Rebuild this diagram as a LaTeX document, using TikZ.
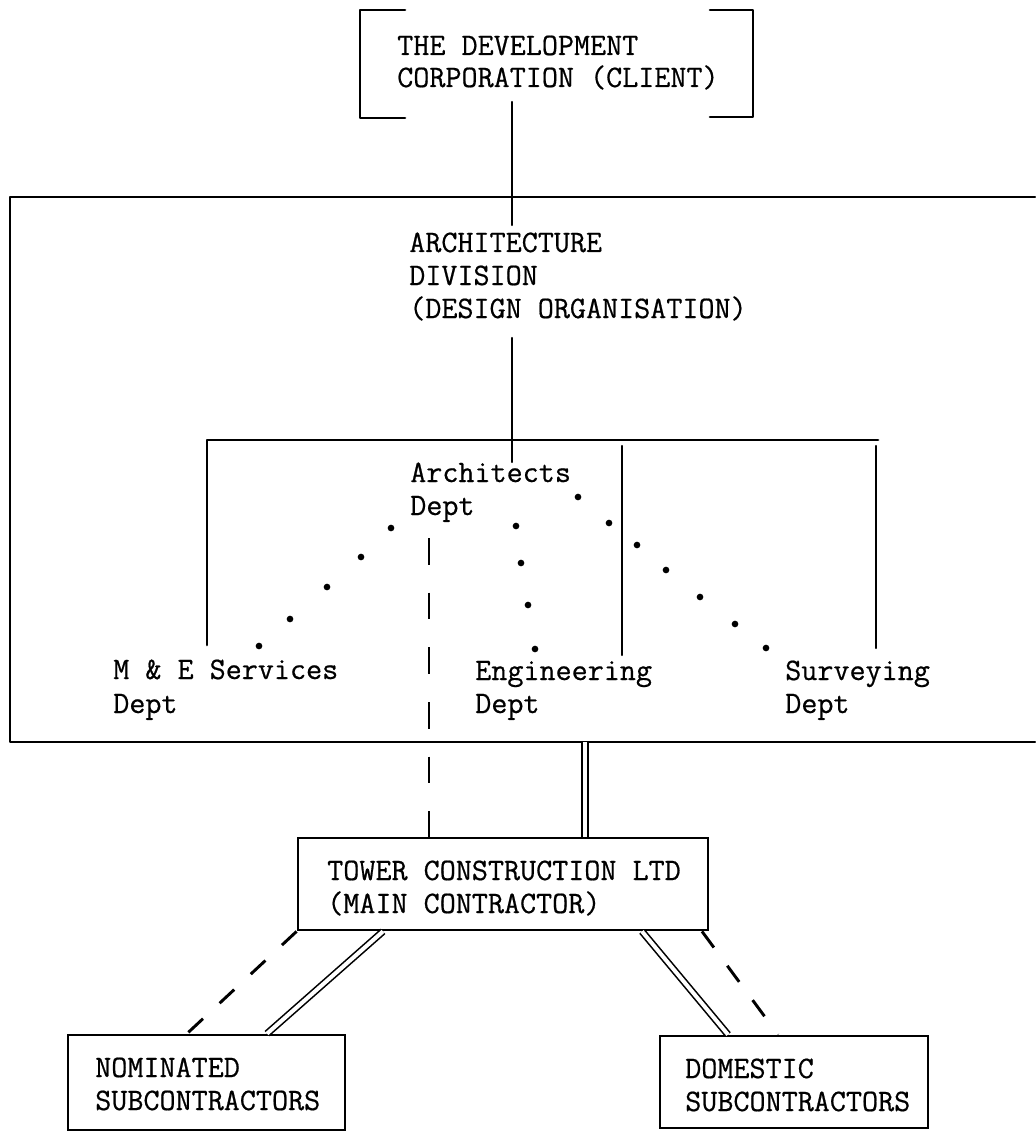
\documentclass[tikz,border=0pt]{standalone}
\usepackage{fontspec}
\newfontfamily\tw[FakeBold=0.6]{Latin Modern Mono}
\begin{document}
\begin{tikzpicture}[x=0.75pt,y=-0.75pt,
  ln/.style={line width=2pt, line cap=round, line join=round},
  vln/.style={line width=1.8pt, line cap=round},
  txt/.style={anchor=base west, inner sep=0pt, font=\tw\fontsize{23.4}{28}\selectfont},
  box/.style={draw, line width=2.1pt, inner sep=0pt},
  dashv/.style={line width=2pt, dash pattern=on 20pt off 21pt},
  dashd/.style={line width=2.2pt, dash pattern=on 15pt off 17pt},
  dbl/.style={double, line width=1.2pt, double distance=3pt},
  dot/.style={circle, fill, inner sep=0pt, minimum size=5pt}]
\useasboundingbox (0,0) rectangle (1035,1134);

% client brackets
\draw[ln] (405,10) -- (360,10) -- (360,118) -- (405,118);
\draw[ln] (710,10) -- (753,10) -- (753,117) -- (710,117);
\node[txt] (c1) at (397,55) {THE DEVELOPMENT};
\node[txt] (c2) at (397,87) {CORPORATION (CLIENT)};

% design organisation frame
\draw[ln] (1035,197) -- (10,197) -- (10,742) -- (1035,742);
\coordinate (clbot) at (512,102);
\coordinate (adtop) at (512,225);
\draw[vln] (clbot) -- (adtop);
\node[txt] (a1) at (409,252) {ARCHITECTURE};
\node[txt] (a2) at (409,285) {DIVISION};
\node[txt] (a3) at (409,318) {(DESIGN ORGANISATION)};
\coordinate (adbot) at (512,338);
\coordinate (depin) at (512,462);
\draw[vln] (adbot) -- (depin);

% departments bracket
\draw[ln] (207,645) -- (207,440) -- (878,440);
\draw[vln] (622,446) -- (622,655);
\draw[vln] (876,446) -- (876,648);
\node[txt] (ar1) at (410,482) {Architects};
\node[txt] (ar2) at (410,515) {Dept};
\node[txt] (me1) at (113,679) {M \& E Services};
\node[txt] (me2) at (113,713) {Dept};
\node[txt] (en1) at (475,680) {Engineering};
\node[txt] (en2) at (475,713) {Dept};
\node[txt] (su1) at (785,680) {Surveying};
\node[txt] (su2) at (785,713) {Dept};

% dotted links
\foreach \i/\p in {1/{(391,528)},2/{(361,557)},3/{(327,587)},4/{(290,619)},5/{(259,646)},
                   6/{(516,526)},7/{(521,563)},8/{(528,605)},9/{(535,649)},
                   10/{(578,497)},11/{(609,523)},12/{(637,545)},13/{(666,570)},
                   14/{(700,597)},15/{(735,624)},16/{(766,648)}}
  \node[dot] (dt\i) at \p {};

% main contractor
\node[box, minimum width=307.5pt, minimum height=69pt] (tower) at (503,884) {};
\node[txt] (t1) at (327,880) {TOWER CONSTRUCTION LTD};
\node[txt] (t2) at (327,913) {(MAIN CONTRACTOR)};
\coordinate (dtop) at (429,538);
\draw[dashv] (dtop) -- (tower.north -| dtop);
\coordinate (dbtop) at (585,742);
\draw[dbl] (dbtop) -- (tower.north -| dbtop);

% subcontractors
\node[box, minimum width=207.75pt, minimum height=71.25pt] (nom) at (206.5,1082.5) {};
\node[txt] (n1) at (95,1077) {NOMINATED};
\node[txt] (n2) at (95,1110) {SUBCONTRACTORS};
\node[box, minimum width=201pt, minimum height=69pt] (dom) at (794,1082) {};
\node[txt] (o1) at (685,1078) {DOMESTIC};
\node[txt] (o2) at (685,1111) {SUBCONTRACTORS};

\coordinate (ndash) at (187,0);
\coordinate (tdbl) at (383,0);
\coordinate (ndbl) at (267,0);
\coordinate (tdbr) at (642,0);
\coordinate (odbl) at (728,0);
\coordinate (tdsr) at (702,0);
\coordinate (odsr) at (778,0);
\draw[dashd] (tower.south west) -- (nom.north -| ndash);
\draw[dbl] (tower.south -| tdbl) -- (nom.north -| ndbl);
\draw[dbl] (tower.south -| tdbr) -- (dom.north -| odbl);
\draw[dashd] (tower.south -| tdsr) -- (dom.north -| odsr);
\end{tikzpicture}
\end{document}
